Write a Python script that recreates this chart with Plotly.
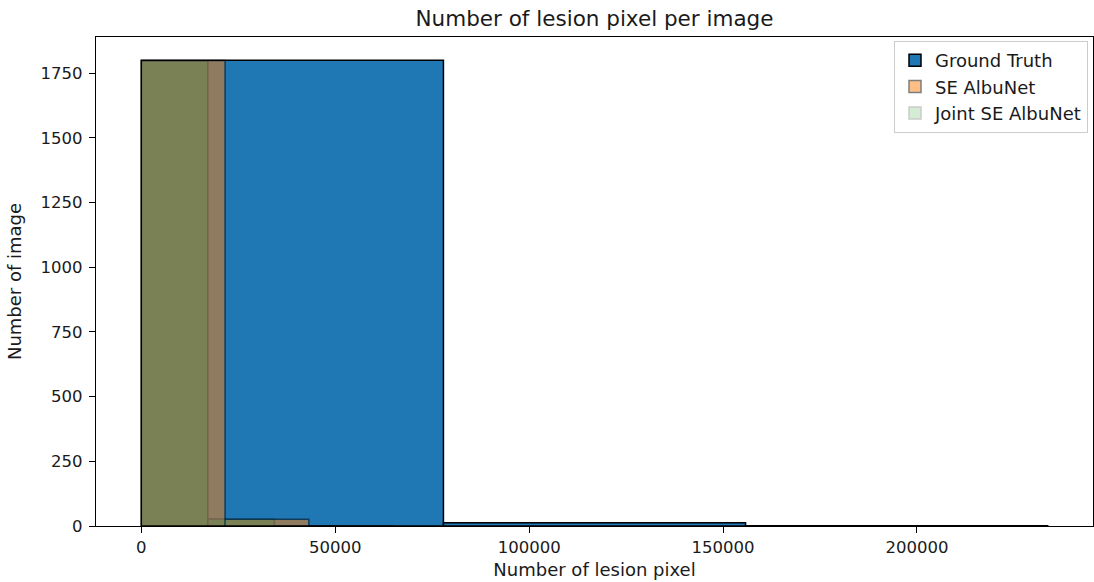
import plotly.graph_objects as go

# Histogram bin edges and counts
gt_edges = [0, 77900, 155800, 233700]
gt_counts = [1800, 13, 1]

se_edges = [0, 21600, 43200, 64800]
se_counts = [1799, 26, 1]

joint_edges = [0, 17140, 34280, 51420]
joint_counts = [1798, 27, 1]

series_names = ["Ground Truth", "SE AlbuNet", "Joint SE AlbuNet"]
series_colors = ["#1f77b4", "#ff7f0e", "#2ca02c"]
series_opacity = [1.0, 0.5, 0.2]

x_ticks = [0, 50000, 100000, 150000, 200000]
y_ticks = [0, 250, 500, 750, 1000, 1250, 1500, 1750]


def centers(edges):
    return [(a + b) / 2 for a, b in zip(edges[:-1], edges[1:])]


def widths(edges):
    return [b - a for a, b in zip(edges[:-1], edges[1:])]


fig = go.Figure()
for name, edges, counts, color, op in zip(
    series_names,
    [gt_edges, se_edges, joint_edges],
    [gt_counts, se_counts, joint_counts],
    series_colors,
    series_opacity,
):
    fig.add_trace(
        go.Bar(
            x=centers(edges),
            y=counts,
            width=widths(edges),
            name=name,
            opacity=op,
            marker=dict(color=color, line=dict(color="black", width=1.5)),
        )
    )

font_family = "DejaVu Sans"
FS = 16.5
LFS = 18
TXT = "#1a1a1a"
PL, PR, PT, PB = 96, 1, 37, 56
fig.update_layout(
    width=1094,
    height=582,
    autosize=False,
    barmode="overlay",
    plot_bgcolor="white",
    paper_bgcolor="white",
    margin=dict(l=PL, r=PR, t=PT, b=PB, autoexpand=False),
    font=dict(family=font_family, size=FS, color=TXT),
    title=dict(
        text="Number of lesion pixel per image",
        x=(PL + 1093) / 2 / 1094,
        xanchor="center",
        y=1 - 18 / 582,
        yanchor="middle",
        font=dict(family=font_family, size=21.5, color=TXT),
    ),
    legend=dict(
        x=(894 - PL) / (1094 - PL - PR),
        y=1 - (41 - PT) / (582 - PT - PB),
        xanchor="left",
        yanchor="top",
        bgcolor="rgba(255,255,255,0.8)",
        bordercolor="#cccccc",
        borderwidth=1,
        font=dict(family=font_family, size=LFS, color=TXT),
    ),
    showlegend=True,
)

fig.update_xaxes(
    range=[-11685, 245385],
    tickvals=x_ticks,
    tickformat="d",
    ticks="outside",
    ticklen=6,
    tickwidth=1.3,
    tickcolor="black",
    showline=True,
    linecolor="black",
    linewidth=1.3,
    mirror=True,
    showgrid=False,
    zeroline=False,
    automargin=False,
    tickfont=dict(size=FS),
    title=dict(text="Number of lesion pixel", font=dict(size=LFS), standoff=7),
)
fig.update_yaxes(
    range=[0, 1890],
    tickvals=y_ticks,
    tickformat="d",
    ticks="outside",
    ticklen=6,
    tickwidth=1.3,
    tickcolor="black",
    ticklabelstandoff=3,
    showline=True,
    linecolor="black",
    linewidth=1.3,
    mirror=True,
    showgrid=False,
    zeroline=False,
    automargin=False,
    tickfont=dict(size=FS),
    title=dict(text="Number of image", font=dict(size=LFS), standoff=14),
)

fig.write_html(
    "out.html",
    config={"displayModeBar": False},
    post_script="document.body.style.margin='0';document.body.style.overflow='hidden';",
)
